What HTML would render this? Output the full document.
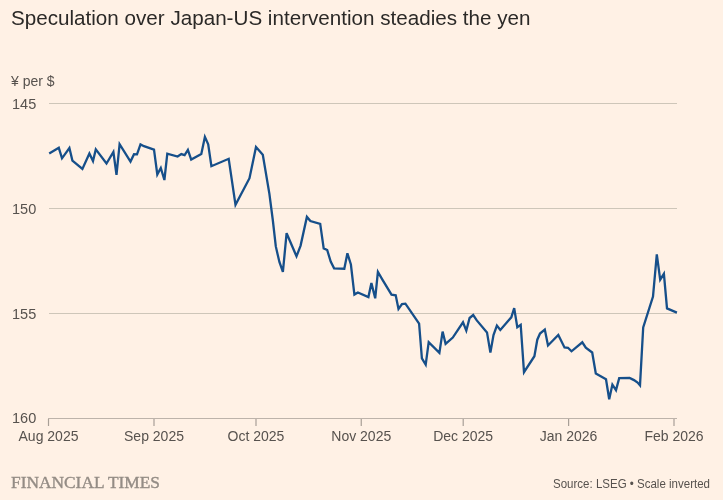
<!DOCTYPE html>
<html><head><meta charset="utf-8"><style>
html,body{margin:0;padding:0;background:#FFF1E5;}
svg{display:block;will-change:transform;}
text{font-family:"Liberation Sans",sans-serif;}
</style></head><body>
<svg width="723" height="500" viewBox="0 0 723 500">
<rect width="723" height="500" fill="#FFF1E5"/>
<text x="11" y="25" font-size="20.5" fill="#2B2927" textLength="519.5" lengthAdjust="spacingAndGlyphs">Speculation over Japan-US intervention steadies the yen</text>
<text x="11" y="86" font-size="14" fill="#57524E">¥ per $</text>
<g fill="#57524E" font-size="14.5">
<text x="12" y="109">145</text>
<text x="12" y="214">150</text>
<text x="12" y="319">155</text>
<text x="12" y="423">160</text>
</g>
<g stroke="#CEC6B9" stroke-width="1">
<line x1="49" y1="103.5" x2="677" y2="103.5"/>
<line x1="49" y1="208.5" x2="677" y2="208.5"/>
<line x1="49" y1="313.5" x2="677" y2="313.5"/>
</g>
<g stroke="#BDB3AA" stroke-width="1">
<line x1="48" y1="418.5" x2="677" y2="418.5"/>
</g>
<g stroke="#A89F97" stroke-width="1.2">
<line x1="48.5" y1="419" x2="48.5" y2="426"/>
<line x1="154.0" y1="419" x2="154.0" y2="426"/>
<line x1="256.0" y1="419" x2="256.0" y2="426"/>
<line x1="361.25" y1="419" x2="361.25" y2="426"/>
<line x1="463.2" y1="419" x2="463.2" y2="426"/>
<line x1="568.6" y1="419" x2="568.6" y2="426"/>
<line x1="674.0" y1="419" x2="674.0" y2="426"/>
</g>
<g fill="#57524E" font-size="14">
<text x="48.5" y="441" text-anchor="middle">Aug 2025</text>
<text x="154.0" y="441" text-anchor="middle">Sep 2025</text>
<text x="256.0" y="441" text-anchor="middle">Oct 2025</text>
<text x="361.25" y="441" text-anchor="middle">Nov 2025</text>
<text x="463.2" y="441" text-anchor="middle">Dec 2025</text>
<text x="568.6" y="441" text-anchor="middle">Jan 2026</text>
<text x="674.0" y="441" text-anchor="middle">Feb 2026</text>
</g>
<path d="M49.2 153.6 L58.8 147.8 L62.0 158.3 L69.4 148.0 L72.4 160.6 L82.4 169.0 L89.4 153.5 L93.0 161.0 L95.8 149.4 L106.5 163.5 L113.4 152.0 L116.5 174.9 L119.6 144.1 L130.5 161.6 L134.0 154.2 L137.0 154.4 L140.5 144.4 L144.0 146.2 L154.0 149.6 L157.3 174.5 L160.8 167.9 L164.4 180.0 L167.3 153.6 L177.6 156.5 L181.3 154.1 L184.6 155.2 L187.9 150.0 L191.2 159.6 L201.3 154.1 L204.9 136.9 L208.2 144.3 L211.4 166.2 L228.7 158.8 L235.5 204.8 L249.5 178.2 L256.0 147.0 L262.8 154.8 L269.4 193.8 L272.8 220.0 L275.8 246.4 L279.4 262.0 L282.9 271.9 L286.6 233.2 L296.5 256.3 L300.6 245.6 L306.9 216.9 L310.4 221.1 L320.2 223.9 L323.7 248.4 L327.2 250.0 L330.7 261.6 L334.1 268.3 L344.3 268.7 L347.4 253.3 L350.9 264.5 L354.4 294.6 L357.9 292.5 L368.4 297.1 L371.4 283.1 L375.2 298.3 L377.9 271.9 L382.4 279.6 L391.5 294.7 L395.7 295.3 L398.5 309.0 L402.0 304.1 L405.4 303.7 L419.1 323.7 L421.9 358.3 L425.7 364.6 L428.7 342.1 L439.4 352.9 L442.6 331.6 L445.6 343.8 L452.8 337.6 L463.0 322.3 L466.3 330.6 L469.6 318.0 L473.2 315.0 L476.8 320.4 L487.0 332.4 L490.4 352.6 L493.5 335.0 L496.9 325.6 L500.3 329.9 L511.3 317.3 L514.2 308.1 L517.3 327.2 L520.7 324.8 L524.0 372.2 L534.4 356.2 L537.3 339.7 L540.0 333.5 L544.8 329.5 L548.0 345.5 L558.3 335.0 L564.5 347.5 L568.0 347.8 L571.5 351.3 L582.3 342.3 L585.8 347.7 L592.2 352.5 L595.8 373.5 L606.0 379.3 L609.2 399.3 L612.4 384.6 L616.0 390.1 L619.2 378.2 L629.6 378.0 L634.0 380.1 L637.6 382.6 L640.0 385.4 L643.2 327.5 L653.0 296.5 L656.8 254.3 L660.2 279.7 L663.9 273.8 L667.0 308.4 L676.9 312.6" fill="none" stroke="#164F8A" stroke-width="2.3" stroke-linejoin="miter" stroke-linecap="butt"/>
<text x="11" y="488" style="font-family:'Liberation Serif',serif;" font-size="17.6" fill="#948C85" stroke="#948C85" stroke-width="0.4" textLength="149" lengthAdjust="spacingAndGlyphs">FINANCIAL TIMES</text>
<text x="553" y="488" font-size="12.5" fill="#57524E" textLength="157" lengthAdjust="spacingAndGlyphs">Source: LSEG • Scale inverted</text>
</svg>
</body></html>
